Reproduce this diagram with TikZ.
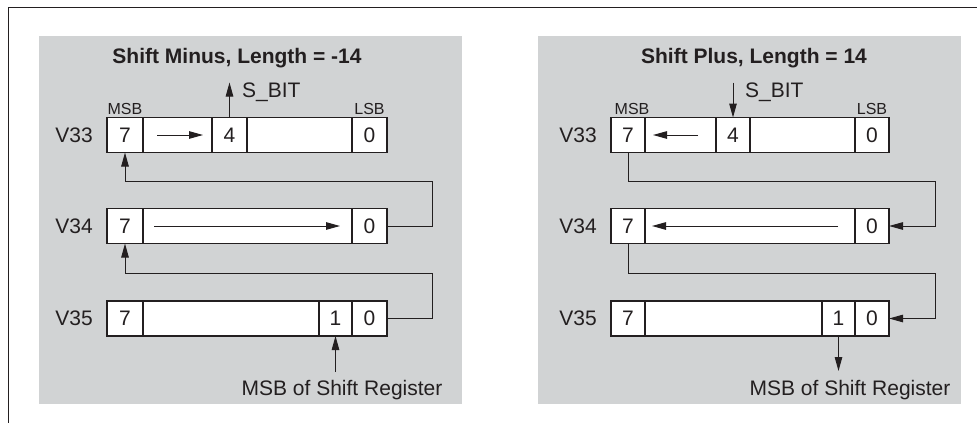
\documentclass[tikz,border=0pt]{standalone}
\usepackage{fontspec}
\setmainfont{Liberation Sans}
\usetikzlibrary{arrows.meta}
\definecolor{panelgray}{HTML}{D1D3D4}
\definecolor{ink}{HTML}{231F20}
\begin{document}
\begin{tikzpicture}[x=1pt,y=-1pt,
 cell/.style={draw=ink, fill=white, line width=1.1pt, inner sep=0pt, outer sep=0pt, anchor=north west, minimum height=35pt, font=\fontsize{21}{24}\selectfont, text=ink},
 lbl/.style={font=\fontsize{21}{24}\selectfont, text=ink, inner sep=0pt},
 small/.style={font=\fontsize{16}{19}\selectfont, text=ink, inner sep=0pt, anchor=base},
 ttl/.style={font=\fontsize{21}{24}\selectfont\bfseries, text=ink, inner sep=0pt, anchor=base},
 arr/.style={draw=ink, line width=1pt, -{Triangle[length=14pt,width=7.5pt]}},
 wire/.style={draw=ink, line width=1pt}]
\useasboundingbox (0,0) rectangle (977,423);
\fill[white] (0,0) rectangle (977,423);
% frame
\draw[ink, line width=1pt] (977,7) -- (8,7) -- (8,423);
% panels
\fill[panelgray] (39,36) rectangle (462,404);
\fill[panelgray] (538,36) rectangle (961,404);

% ===== Left panel =====
\node[ttl] (Lttl) at (237,63) {Shift Minus, Length = -14};
% V33
\node[cell, minimum width=36pt] (La7) at (107,117.5) {7};
\node[cell, minimum width=69pt] (La6) at (143,117.5) {};
\node[cell, minimum width=35pt] (La4) at (212,117.5) {4};
\node[cell, minimum width=105pt] (La3) at (247,117.5) {};
\node[cell, minimum width=35pt] (La0) at (352,117.5) {0};
% V34
\node[cell, minimum width=36pt] (Lb7) at (107,208.5) {7};
\node[cell, minimum width=209pt] (Lbm) at (143,208.5) {};
\node[cell, minimum width=35pt] (Lb0) at (352,208.5) {0};
% V35
\node[cell, minimum width=36pt] (Lc7) at (107,301) {7};
\node[cell, minimum width=176pt] (Lcm) at (143,301) {};
\node[cell, minimum width=33pt] (Lc1) at (319,301) {1};
\node[cell, minimum width=35pt] (Lc0) at (352,301) {0};
% labels
\node[lbl, anchor=east] (LV33) at ([xshift=-14pt]La7.west) {V33};
\node[lbl, anchor=east] (LV34) at ([xshift=-14pt]Lb7.west) {V34};
\node[lbl, anchor=east] (LV35) at ([xshift=-14pt]Lc7.west) {V35};
\node[small] (LMSB) at ([yshift=3pt]La7.north) {MSB};
\node[small] (LLSB) at ([yshift=3pt]La0.north) {LSB};
\node[lbl, anchor=base west] (LSB) at (242,97) {S\_BIT};
\node[lbl, anchor=base] (LMSR) at (342,395) {MSB of Shift Register};
% arrows
\coordinate (LsT) at ([yshift=35pt]La4.north);
\draw[arr] (La4.north) -- (LsT);
\draw[arr] ([xshift=14pt]La6.west) -- ([xshift=-9pt]La6.east);
\draw[arr] ([xshift=11pt]Lbm.west) -- ([xshift=-12pt]Lbm.east);
\coordinate (Lr1) at (432,181);
\draw[arr] (Lb0.east) -| (Lr1) -| (La7.south);
\coordinate (Lr2) at (432,273);
\draw[arr] (Lc0.east) -| (Lr2) -| (Lb7.south);
\coordinate (Lm) at ([yshift=-36pt]Lc1.south);
\draw[arr] (Lm) -- (Lc1.south);

% ===== Right panel =====
\node[ttl] (Rttl) at (754,63) {Shift Plus, Length = 14};
% V33
\node[cell, minimum width=34pt] (Ra7) at (611,117.5) {7};
\node[cell, minimum width=71pt] (Ra6) at (645,117.5) {};
\node[cell, minimum width=34pt] (Ra4) at (716,117.5) {4};
\node[cell, minimum width=105pt] (Ra3) at (750,117.5) {};
\node[cell, minimum width=34pt] (Ra0) at (855,117.5) {0};
% V34
\node[cell, minimum width=34pt] (Rb7) at (611,208.5) {7};
\node[cell, minimum width=210pt] (Rbm) at (645,208.5) {};
\node[cell, minimum width=34pt] (Rb0) at (855,208.5) {0};
% V35
\node[cell, minimum width=34pt] (Rc7) at (611,301) {7};
\node[cell, minimum width=177pt] (Rcm) at (645,301) {};
\node[cell, minimum width=33pt] (Rc1) at (822,301) {1};
\node[cell, minimum width=34pt] (Rc0) at (855,301) {0};
% labels
\node[lbl, anchor=east] (RV33) at ([xshift=-14pt]Ra7.west) {V33};
\node[lbl, anchor=east] (RV34) at ([xshift=-14pt]Rb7.west) {V34};
\node[lbl, anchor=east] (RV35) at ([xshift=-14pt]Rc7.west) {V35};
\node[small] (RMSB) at ([yshift=3pt,xshift=4pt]Ra7.north) {MSB};
\node[small] (RLSB) at ([yshift=3pt]Ra0.north) {LSB};
\node[lbl, anchor=base west] (RSB) at (745,97) {S\_BIT};
\node[lbl, anchor=base] (RMSR) at (850,395) {MSB of Shift Register};
% arrows
\coordinate (RsT) at ([yshift=35pt]Ra4.north);
\draw[arr] (RsT) -- (Ra4.north);
\draw[arr] ([xshift=-18pt]Ra6.east) -- ([xshift=8pt]Ra6.west);
\draw[arr] ([xshift=-17pt]Rbm.east) -- ([xshift=7pt]Rbm.west);
\coordinate (Rr1) at (935,181);
\draw[arr] (Ra7.south) |- (Rr1) |- (Rb0.east);
\coordinate (Rr2) at (935,273);
\draw[arr] (Rb7.south) |- (Rr2) |- (Rc0.east);
\coordinate (Rm) at ([yshift=-35pt]Rc1.south);
\draw[arr] (Rc1.south) -- (Rm);
\end{tikzpicture}
\end{document}
